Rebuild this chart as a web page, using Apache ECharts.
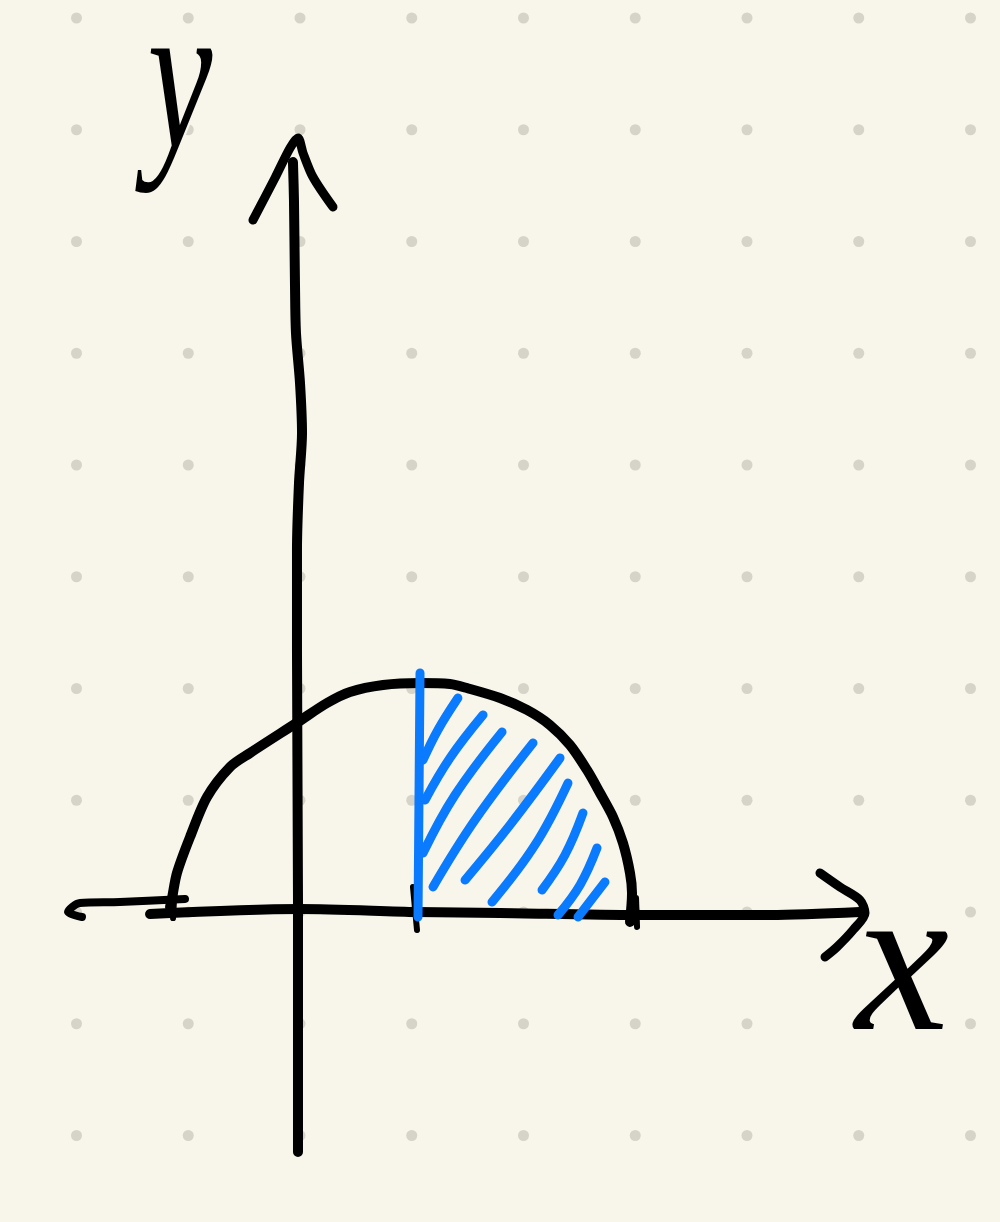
<!DOCTYPE html>
<html>
<head>
<meta charset="utf-8">
<script src="https://cdn.jsdelivr.net/npm/echarts@6/dist/echarts.min.js"></script>
<style>
html,body{margin:0;padding:0;background:#f8f6ea;}
#chart{width:1000px;height:1222px;}
</style>
</head>
<body>
<div id="chart"></div>
<script>
// Dot-grid positions (in grid units)
const dotX = [-2, -1, 0, 1, 2, 3, 4, 5, 6];
const dotY = [-2, -1, 0, 1, 2, 3, 4, 5, 6, 7, 8];

// Hand-drawn curve f(x)
const curve = [
  [-1.163, 0.045], [-1.145, 0.125], [-1.101, 0.349], [-0.984, 0.671], [-0.832, 1.029],
  [-0.626, 1.298], [-0.447, 1.423], [-0.018, 1.700], [0.242, 1.870], [0.447, 1.969],
  [0.743, 2.031], [1.074, 2.049], [1.342, 2.040], [1.494, 2.004], [1.790, 1.915],
  [2.031, 1.808], [2.237, 1.673], [2.416, 1.494], [2.568, 1.271], [2.685, 1.065],
  [2.801, 0.850], [2.890, 0.617], [2.953, 0.349], [2.971, 0.170], [2.953, -0.089]
];

// Axes strokes
const yAxisLine = [
  [-0.018, -2.148], [-0.018, 0.107], [-0.027, 2.345], [-0.027, 3.239], [-0.009, 3.839],
  [0.018, 4.286], [0.000, 4.734], [-0.036, 5.181], [-0.045, 5.629], [-0.054, 6.371], [-0.063, 6.711]
];
const yArrow = [
  [-0.421, 6.192], [-0.224, 6.568], [-0.089, 6.837], [-0.018, 6.926],
  [0.027, 6.792], [0.116, 6.577], [0.295, 6.309]
];
const xAxisLine = [
  [-1.342, -0.018], [0.000, 0.027], [1.047, 0.000], [1.790, -0.009],
  [3.016, -0.027], [4.206, -0.027], [5.011, 0.000]
];
const xAxisLeft = [
  [-1.029, 0.116], [-1.611, 0.089], [-1.969, 0.081], [-2.076, 0.000], [-1.951, -0.045]
];
const xArrow = [
  [4.653, 0.349], [4.832, 0.224], [5.011, 0.107], [5.056, -0.009],
  [4.949, -0.161], [4.805, -0.313], [4.698, -0.403]
];
const ticks = [
  [[-1.119, 0.268], [-1.136, -0.054]],
  [[1.011, 0.224], [1.047, -0.161]],
  [[3.007, 0.125], [3.016, -0.134]]
];

// Blue shaded region: left boundary and hatching
const blueEdge = [[1.074, 2.139], [1.056, -0.045]];
const hatches = [
  [[1.101, 1.360], [1.234, 1.629], [1.413, 1.915]],
  [[1.119, 1.002], [1.342, 1.378], [1.638, 1.763]],
  [[1.101, 0.528], [1.387, 1.047], [1.808, 1.611]],
  [[1.190, 0.224], [1.566, 0.823], [2.085, 1.512]],
  [[1.477, 0.286], [1.879, 0.779], [2.327, 1.378]],
  [[1.718, 0.089], [2.103, 0.600], [2.398, 1.154]],
  [[2.166, 0.197], [2.371, 0.510], [2.532, 0.886]],
  [[2.309, -0.027], [2.506, 0.242], [2.658, 0.573]],
  [[2.488, -0.045], [2.729, 0.268]]
];

const labelY = 'y';
const labelX = 'x';

const dots = [];
dotX.forEach(x => dotY.forEach(y => dots.push([x, y])));

function stroke(data, color, width, z, smooth) {
  return {
    type: 'line', data: data, symbol: 'none', smooth: smooth, z: z,
    silent: true, animation: false,
    lineStyle: { color: color, width: width, cap: 'round', join: 'round' }
  };
}

const BLACK = '#000000';
const BLUE = '#0a7bff';
const BG = '#f8f6ea';

const series = [
  {
    type: 'scatter', data: dots, symbol: 'circle', symbolSize: 11, z: 1, silent: true,
    itemStyle: { color: '#cdcabf' }
  },
  stroke(yAxisLine, BLACK, 10, 3, 0.3),
  stroke(yArrow, BLACK, 9, 3, 0.3),
  stroke(xAxisLine, BLACK, 10, 3, 0.3),
  stroke(xAxisLeft, BLACK, 8, 3, 0.3),
  stroke(xArrow, BLACK, 9, 3, 0.3),
  stroke(curve, BLACK, 10, 3, 0.3)
];
ticks.forEach(t => series.push(stroke(t, BLACK, 6, 3, 0)));
series.push(stroke(blueEdge, BLUE, 9, 5, 0));
hatches.forEach(h => series.push(stroke(h, BLUE, 9, 5, 0.4)));

const chart = echarts.init(document.getElementById('chart'), null, { renderer: 'canvas' });
chart.setOption({
  backgroundColor: BG,
  animation: false,
  grid: { left: 0, top: 0, width: 1000, height: 1222, containLabel: false },
  xAxis: { type: 'value', min: -300 / 111.75, max: 700 / 111.75, show: false },
  yAxis: { type: 'value', min: (912 - 1222) / 111.75, max: 912 / 111.75, show: false },
  series: series,
  graphic: [
    {
      type: 'text', x: 180, y: -17, scaleX: 0.68, z: 10, silent: true,
      style: {
        text: labelY, font: 'italic 215px "Liberation Serif"', fill: BLACK,
        align: 'center', verticalAlign: 'top',
        stroke: BG, lineWidth: 6
      }
    },
    {
      type: 'text', left: 852, top: 864, z: 10, silent: true,
      style: {
        text: labelX, font: 'italic 212px "Liberation Serif"', fill: BLACK,
        stroke: BG, lineWidth: 6
      }
    }
  ]
});
</script>
</body>
</html>
